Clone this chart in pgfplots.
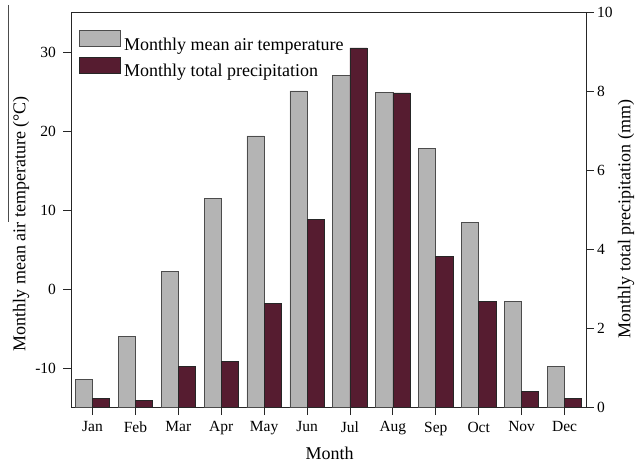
\documentclass[border=0pt]{standalone}
\usepackage{pgfplots}
\pgfplotsset{compat=1.18}
\usepackage{fontspec}
\setmainfont{Liberation Serif}
\definecolor{tgray}{RGB}{180,180,180}
\definecolor{pmaroon}{RGB}{86,28,48}
\pgfplotsset{
  mylegbox/.style={legend image code/.code={\draw[##1] (0pt,-1.7pt) rectangle (41pt,14pt);}},
  common/.style={
    scale only axis, width=515pt, height=395pt,
    xmin=-0.5, xmax=11.5,
    tick align=outside, major tick length=7.5pt,
    tick style={black!85, line width=0.8pt},
    axis line style={black!85, line width=0.8pt},
    ticklabel style={font=\fontsize{15.5}{18}\selectfont},
    ylabel style={font=\fontsize{18}{21}\selectfont},
    xlabel style={font=\fontsize{18}{21}\selectfont},
  }
}
\begin{document}
\begin{tikzpicture}
\useasboundingbox (-71pt,-56.3pt) rectangle (565pt,407.7pt);
\begin{axis}[
  common,
  ymin=0, ymax=50,
  xtick={0,...,11},
  xticklabels={Jan,Feb,Mar,Apr,May,Jun,Jul,Aug,Sep,Oct,Nov,Dec},
  xticklabel style={yshift=-3pt},
  ytick={5,15,25,35,45}, yticklabels={-10,0,10,20,30},
  yticklabel style={xshift=-4pt},
  xtick pos=bottom, ytick pos=left,
  xlabel={Month},
  xlabel style={at={(axis description cs:0.502,-0.132)}, anchor=base},
  ylabel={Monthly mean air temperature (°C)},
  ylabel style={at={(axis description cs:-0.097,0.466)}, anchor=center},
]
\addplot[ybar, bar width=0.4, bar shift=-0.2, fill=tgray, draw=black!70, line width=0.7pt,
  y filter/.expression={y+15}] coordinates {
  (0,-11.4) (1,-5.95) (2,2.3) (3,11.5) (4,19.4) (5,25.1)
  (6,27.05) (7,24.9) (8,17.8) (9,8.5) (10,-1.55) (11,-9.8)
};
\end{axis}
\begin{axis}[
  common,
  ymin=0, ymax=10,
  axis x line=none, axis y line*=right,
  ytick={0,2,4,6,8,10}, yticklabels={0,2,4,6,8,10},
  ylabel={Monthly total precipitation (mm)},
  ylabel style={at={(axis description cs:1.078,0.478)}, anchor=center, rotate=0},
  legend style={at={(axis description cs:0,1)}, anchor=north west,
    xshift=7.3pt, yshift=-17.3pt, draw=none, fill=none, inner sep=0pt,
    row sep=5.4pt, column sep=4pt, font=\fontsize{18}{21}\selectfont,
    nodes={inner sep=0pt}},
  legend cell align=left,
]
\addlegendimage{mylegbox, fill=tgray, draw=black!70, line width=0.7pt}
\addlegendentry{Monthly mean air temperature}
\addplot[ybar, bar width=0.4, bar shift=0.2, fill=pmaroon, draw=black!85, line width=0.7pt, mylegbox] coordinates {
  (0,0.24) (1,0.19) (2,1.05) (3,1.17) (4,2.63) (5,4.76)
  (6,9.11) (7,7.97) (8,3.84) (9,2.70) (10,0.41) (11,0.23)
};
\addlegendentry{Monthly total precipitation}
\end{axis}
\draw[black!70, line width=0.7pt] (-63pt,402.7pt) -- (-63pt,185.7pt);
\end{tikzpicture}
\end{document}
